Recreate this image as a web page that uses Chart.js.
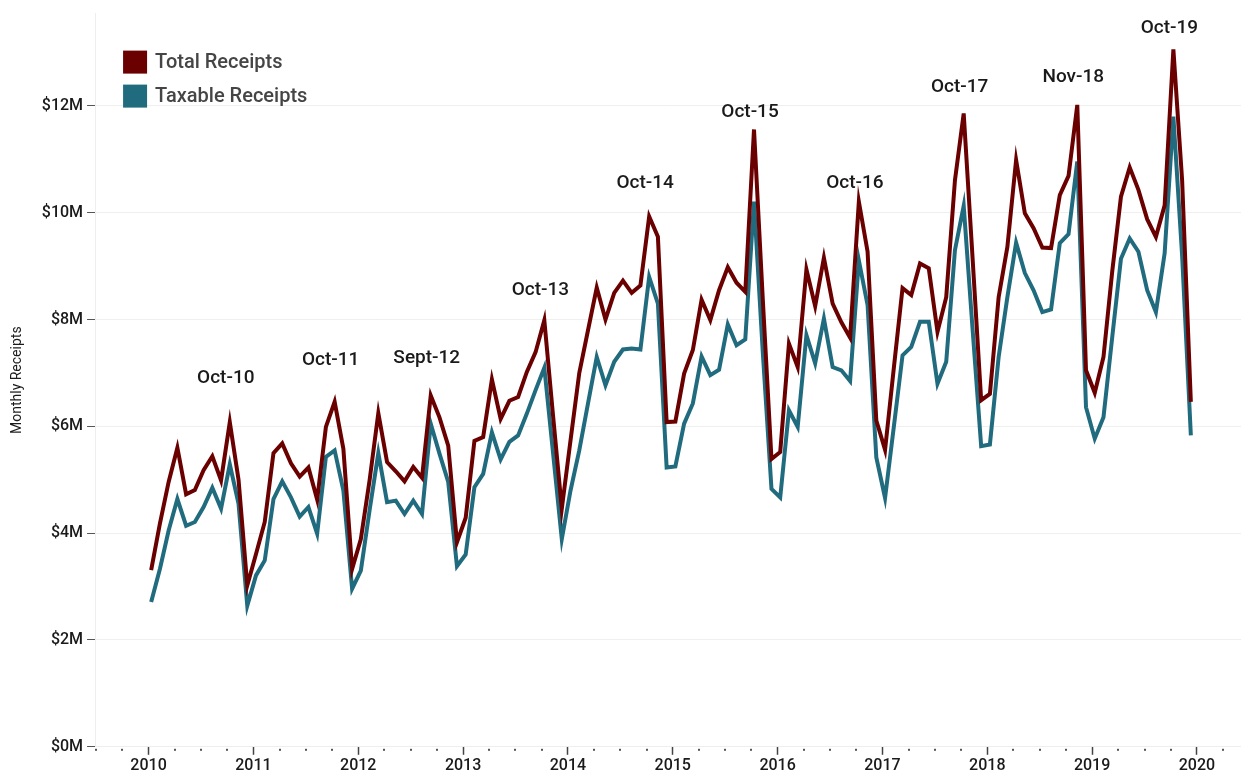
<!DOCTYPE html>
<html>
<head>
<meta charset="utf-8">
<script src="https://cdn.jsdelivr.net/npm/chart.js@4.4.1/dist/chart.umd.min.js"></script>
<style>
  html, body { margin: 0; padding: 0; background: #ffffff; }
  canvas { display: block; }
</style>
</head>
<body>
<canvas id="c" width="1241" height="778"></canvas>
<script>
// ---- Data (values in $ millions), monthly Jan 2010 .. Dec 2019 ----
const years = [2010, 2011, 2012, 2013, 2014, 2015, 2016, 2017, 2018, 2019];
const monthsPerYear = 12;

const totalReceipts = [
  3.31, 4.18, 4.96, 5.60, 4.73, 4.81, 5.18, 5.44, 4.99, 6.08, 5.00, 3.02,
  3.61, 4.21, 5.50, 5.68, 5.31, 5.06, 5.23, 4.63, 5.99, 6.46, 5.58, 3.33,
  3.89, 4.99, 6.25, 5.33, 5.16, 4.97, 5.24, 5.04, 6.58, 6.17, 5.64, 3.83,
  4.29, 5.73, 5.80, 6.88, 6.14, 6.48, 6.55, 7.02, 7.39, 7.99, 6.20, 4.46,
  5.74, 7.00, 7.80, 8.60, 8.00, 8.50, 8.73, 8.50, 8.64, 9.93, 9.55, 6.08,
  6.09, 6.99, 7.43, 8.37, 7.99, 8.55, 8.98, 8.69, 8.52, 11.56, 8.40, 5.39,
  5.52, 7.55, 7.11, 8.94, 8.25, 9.16, 8.30, 7.95, 7.66, 10.21, 9.27, 6.11,
  5.56, 7.09, 8.59, 8.46, 9.05, 8.96, 7.77, 8.42, 10.61, 11.86, 9.20, 6.49,
  6.61, 8.42, 9.36, 10.99, 9.99, 9.71, 9.35, 9.34, 10.33, 10.69, 12.02, 7.05,
  6.63, 7.30, 8.90, 10.30, 10.85, 10.43, 9.88, 9.55, 10.14, 13.06, 10.61, 6.46
];

const taxableReceipts = [
  2.71, 3.33, 4.05, 4.64, 4.14, 4.21, 4.49, 4.85, 4.46, 5.29, 4.55, 2.64,
  3.21, 3.49, 4.64, 4.97, 4.67, 4.31, 4.49, 3.99, 5.43, 5.55, 4.80, 2.96,
  3.30, 4.43, 5.50, 4.58, 4.61, 4.36, 4.61, 4.36, 6.05, 5.49, 4.96, 3.38,
  3.60, 4.86, 5.11, 5.89, 5.38, 5.71, 5.83, 6.24, 6.68, 7.10, 5.50, 3.89,
  4.80, 5.55, 6.43, 7.30, 6.77, 7.21, 7.44, 7.46, 7.44, 8.80, 8.30, 5.23,
  5.25, 6.05, 6.43, 7.31, 6.96, 7.06, 7.91, 7.52, 7.63, 10.21, 7.40, 4.83,
  4.67, 6.30, 5.99, 7.71, 7.18, 8.02, 7.11, 7.05, 6.85, 9.11, 8.27, 5.42,
  4.66, 5.99, 7.33, 7.49, 7.96, 7.96, 6.80, 7.21, 9.30, 10.13, 7.86, 5.63,
  5.66, 7.30, 8.42, 9.44, 8.87, 8.55, 8.14, 8.19, 9.43, 9.60, 10.96, 6.36,
  5.77, 6.17, 7.67, 9.14, 9.52, 9.27, 8.55, 8.14, 9.24, 11.80, 9.20, 5.83
];

const seriesNames = ['Total Receipts', 'Taxable Receipts'];
const yTickValues = [0, 2, 4, 6, 8, 10, 12];
const yAxisTitle = 'Monthly Receipts';

// Peak annotations: text, month index of the peak, label height ($M)
const peakLabels = ['Oct-10', 'Oct-11', 'Sept-12', 'Oct-13', 'Oct-14', 'Oct-15', 'Oct-16', 'Oct-17', 'Nov-18', 'Oct-19'];
const peakIndex  = [9, 21, 32, 45, 57, 69, 81, 93, 106, 117];
const peakLabelValue = [6.90, 7.24, 7.28, 8.55, 10.56, 11.89, 10.56, 12.36, 12.53, 13.46];

// ---- Build x values (dates as fractional years) ----
const monthX = [];
years.forEach(y => { for (let m = 0; m < monthsPerYear; m++) monthX.push(y + (m + 0.3) / 12); });
const toPoints = arr => arr.map((v, i) => ({ x: monthX[i], y: v }));

const FONT = 'Roboto, "Noto Sans", "DejaVu Sans", sans-serif';
const RED = '#6a0000';
const TEAL = '#216b7f';

const minorTickPlugin = {
  id: 'minorTicks',
  afterDraw(chart) {
    const xs = chart.scales.x;
    const ctx = chart.ctx;
    ctx.save();
    ctx.fillStyle = '#555555';
    xs.ticks.forEach(t => {
      if (!Number.isInteger(t.value)) {
        const px = Math.round(xs.getPixelForValue(t.value));
        ctx.fillRect(px - 1, xs.top + 2, 2, 2);
      }
    });
    ctx.restore();
  }
};

const peakLabelPlugin = {
  id: 'peakLabels',
  afterDatasetsDraw(chart) {
    const meta = chart.getDatasetMeta(0);
    const ys = chart.scales.y;
    const ctx = chart.ctx;
    ctx.save();
    ctx.font = '500 19px ' + FONT;
    ctx.fillStyle = '#1a1a1a';
    ctx.textAlign = 'center';
    ctx.textBaseline = 'middle';
    peakLabels.forEach((txt, i) => {
      const pt = meta.data[peakIndex[i]];
      ctx.fillText(txt, pt.x - 4, ys.getPixelForValue(peakLabelValue[i]));
    });
    ctx.restore();
  }
};

const legendPlugin = {
  id: 'customLegend',
  afterDraw(chart) {
    const ctx = chart.ctx;
    const area = chart.chartArea;
    ctx.save();
    ctx.font = '500 20px ' + FONT;
    ctx.textBaseline = 'middle';
    ctx.textAlign = 'left';
    chart.data.datasets.forEach((ds, i) => {
      const bx = area.left + 28;
      const by = area.top + 37 + i * 34;
      ctx.fillStyle = ds.borderColor;
      ctx.fillRect(bx, by, 24, 23);
      ctx.fillStyle = '#454545';
      ctx.fillText(ds.label, bx + 32, by + 12);
    });
    ctx.restore();
  }
};

new Chart(document.getElementById('c'), {
  type: 'line',
  data: {
    datasets: [
      { label: seriesNames[0], data: toPoints(totalReceipts), borderColor: RED, backgroundColor: RED,
        borderWidth: 4, pointRadius: 0, tension: 0, fill: false },
      { label: seriesNames[1], data: toPoints(taxableReceipts), borderColor: TEAL, backgroundColor: TEAL,
        borderWidth: 4, pointRadius: 0, tension: 0, fill: false }
    ]
  },
  options: {
    responsive: false,
    animation: false,
    devicePixelRatio: 1,
    layout: { padding: { left: 4, right: 0, top: 7, bottom: 0 } },
    plugins: {
      legend: { display: false },
      tooltip: { enabled: false }
    },
    scales: {
      x: {
        type: 'linear',
        min: 2009.49,
        max: 2020.42,
        ticks: {
          stepSize: 0.25,
          autoSkip: false,
          maxRotation: 0,
          minRotation: 0,
          includeBounds: false,
          padding: 2,
          color: '#1a1a1a',
          font: { family: FONT, size: 16, weight: '500' },
          callback: v => Number.isInteger(v) ? String(v) : ''
        },
        grid: {
          drawOnChartArea: false,
          drawTicks: true,
          tickLength: 8,
          tickWidth: 1.5,
          tickColor: c => (c.tick && Number.isInteger(c.tick.value)) ? '#444444' : 'rgba(0,0,0,0)'
        },
        border: { color: '#eeeeee', width: 1 }
      },
      y: {
        type: 'linear',
        min: 0,
        max: 13.73,
        afterBuildTicks: s => { s.ticks = yTickValues.map(v => ({ value: v })); },
        ticks: {
          padding: 4,
          color: '#1a1a1a',
          font: { family: FONT, size: 16, weight: '500' },
          callback: v => '$' + v + 'M'
        },
        grid: {
          color: '#efefef',
          lineWidth: 1,
          drawTicks: true,
          tickLength: 8,
          tickColor: '#555555'
        },
        border: { color: '#eeeeee', width: 1 },
        title: {
          display: true,
          text: yAxisTitle,
          color: '#1a1a1a',
          font: { family: FONT, size: 14, weight: '400' },
          padding: { top: 5, bottom: 12 }
        }
      }
    }
  },
  plugins: [minorTickPlugin, peakLabelPlugin, legendPlugin]
});
</script>
</body>
</html>
